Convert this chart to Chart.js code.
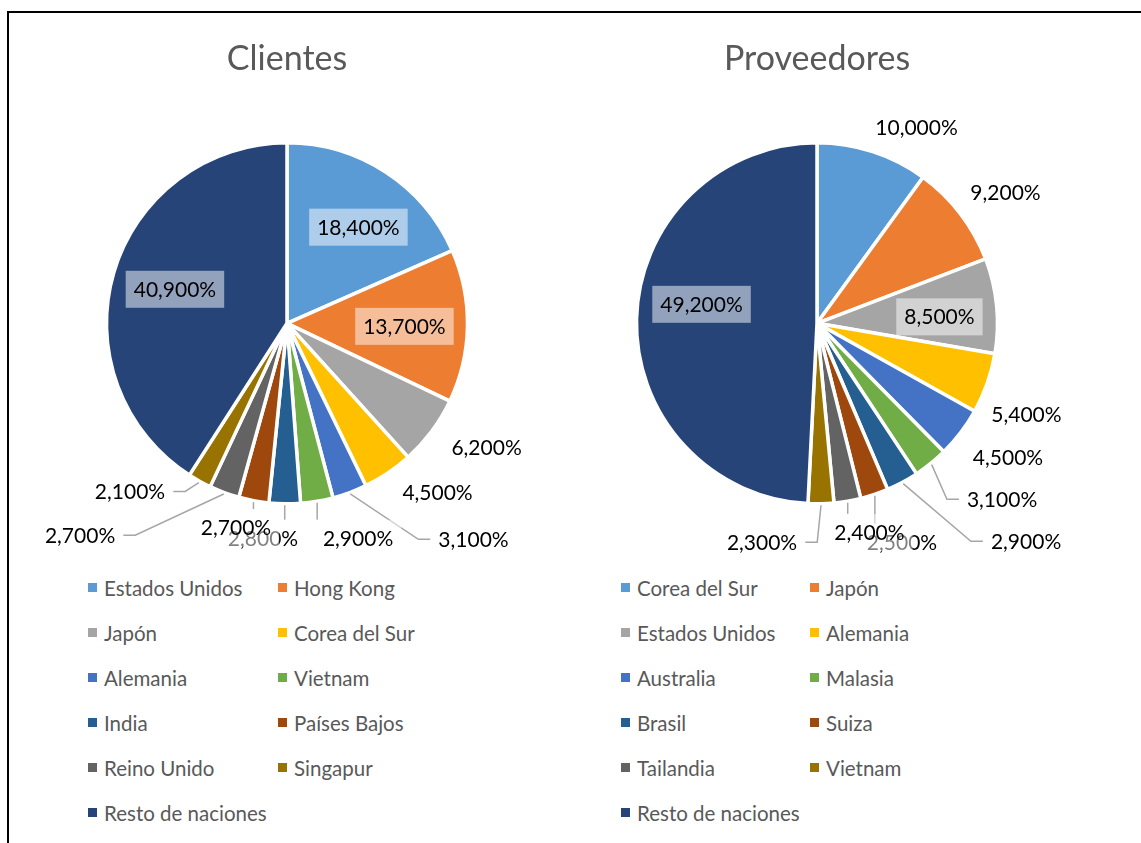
<!DOCTYPE html>
<html><head><meta charset="utf-8">
<script src="https://cdn.jsdelivr.net/npm/chart.js@4.4.1/dist/chart.umd.min.js"></script>
<style>
html,body{margin:0;padding:0;background:#fff;width:1141px;height:843px;overflow:hidden;position:relative;font-family:Lato,sans-serif;}
#frame{position:absolute;left:7px;top:11px;width:1300px;height:1000px;border-left:2px solid #000;border-top:2px solid #000;}
canvas{position:absolute;top:0;}
.legend{position:absolute;top:565px;display:grid;grid-auto-rows:45px;color:#595959;font-size:20.5px;}
.item{display:flex;align-items:center;white-space:nowrap;}
.sw{width:9px;height:9px;margin-right:7px;flex:none;}
</style></head>
<body>
<div id="frame"></div>
<canvas id="c1" width="570" height="565" style="left:0;width:570px;height:565px"></canvas>
<canvas id="c2" width="571" height="565" style="left:570px;width:571px;height:565px"></canvas>
<div id="lg1" class="legend" style="left:88px;grid-template-columns:190px 200px"></div>
<div id="lg2" class="legend" style="left:621px;grid-template-columns:189px 200px"></div>
<script>
// ---- data ----
const clientesLabels = ['Estados Unidos','Hong Kong','Japón','Corea del Sur','Alemania','Vietnam','India','Países Bajos','Reino Unido','Singapur','Resto de naciones'];
const clientesValues = [18.4, 13.7, 6.2, 4.5, 3.1, 2.9, 2.8, 2.7, 2.7, 2.1, 40.9];
const proveedoresLabels = ['Corea del Sur','Japón','Estados Unidos','Alemania','Australia','Malasia','Brasil','Suiza','Tailandia','Vietnam','Resto de naciones'];
const proveedoresValues = [10.0, 9.2, 8.5, 5.4, 4.5, 3.1, 2.9, 2.5, 2.4, 2.3, 49.2];
const sliceColors = ['#5B9BD5','#ED7D31','#A5A5A5','#FFC000','#4472C4','#70AD47','#255E91','#9E480E','#636363','#997300','#264478'];

// ---- label placement (relative to pie centre, in radius units) + leader-line flag ----
const clientesLabelPlace = [[0.399,-0.537,0],[0.656,0.017,0],[1.115,0.693,0],[0.841,0.947,0],[1.042,1.207,1],[0.397,1.201,1],[-0.134,1.201,1],[-0.285,1.142,1],[-1.156,1.184,1],[-0.877,0.939,1],[-0.626,-0.190,0]];
const proveedoresLabelPlace = [[0.556,-1.095,0],[1.053,-0.732,0],[0.684,-0.036,0],[1.170,0.508,0],[1.067,0.751,0],[1.034,0.983,1],[1.168,1.218,1],[0.475,1.223,1],[0.293,1.168,1],[-0.307,1.223,1],[-0.645,-0.106,0]];

const LABEL_FONT = 21;
const pieLabels = {
  id: 'pieLabels',
  afterDatasetsDraw(chart, args, opts) {
    const ctx = chart.ctx;
    const meta = chart.getDatasetMeta(0);
    const ds = chart.data.datasets[0];
    ctx.save();
    ctx.font = LABEL_FONT + 'px Lato';
    meta.data.forEach((arc, i) => {
      const p = arc.getProps(['x','y','startAngle','endAngle','outerRadius'], true);
      const R = p.outerRadius - 1.5;
      const mid = (p.startAngle + p.endAngle) / 2;
      const pl = opts.place[i];
      const cx = p.x + pl[0] * R, cy = p.y + pl[1] * R;
      const text = ds.data[i].toFixed(3).replace('.', ',') + '%';
      const w = ctx.measureText(text).width;
      const box = {l: cx - w/2 - 8, r: cx + w/2 + 8, t: cy - 18.5, b: cy + 18.5};
      if (pl[2]) {
        const sx = p.x + Math.cos(mid) * (R + 3), sy = p.y + Math.sin(mid) * (R + 3);
        ctx.strokeStyle = '#A6A6A6';
        ctx.lineWidth = 1.5;
        ctx.beginPath();
        ctx.moveTo(sx, sy);
        if (sx >= box.l && sx <= box.r) {
          ctx.lineTo(sx, sy < box.t ? box.t : box.b);
        } else if (sx < box.l) {
          ctx.lineTo(box.l - 12, cy); ctx.lineTo(box.l, cy);
        } else {
          ctx.lineTo(box.r + 12, cy); ctx.lineTo(box.r, cy);
        }
        ctx.stroke();
      }
      ctx.fillStyle = 'rgba(255,255,255,0.5)';
      ctx.fillRect(box.l, box.t, box.r - box.l, box.b - box.t);
      ctx.fillStyle = '#000';
      ctx.textAlign = 'center';
      ctx.textBaseline = 'alphabetic';
      ctx.fillText(text, cx, cy + 0.36 * LABEL_FONT);
    });
    ctx.restore();
  }
};

function makeChart(id, title, labels, values, place, pad) {
  return new Chart(document.getElementById(id), {
    type: 'pie',
    data: {labels: labels, datasets: [{data: values, backgroundColor: sliceColors, borderColor: '#fff', borderWidth: 3.5, radius: 180.5}]},
    options: {
      responsive: false, animation: false, radius: 180.5,
      layout: {padding: pad},
      events: [],
      plugins: {
        legend: {display: false},
        tooltip: {enabled: false},
        title: {display: true, text: title, color: '#595959', font: {family: 'Lato', size: 34, weight: 'normal'}, padding: {top: 39, bottom: 10}},
        pieLabels: {place: place}
      }
    },
    plugins: [pieLabels]
  });
}

function buildLegend(chart, elId) {
  const el = document.getElementById(elId);
  const ds = chart.data.datasets[0];
  chart.data.labels.forEach((lab, i) => {
    const it = document.createElement('div'); it.className = 'item';
    const sw = document.createElement('span'); sw.className = 'sw'; sw.style.background = ds.backgroundColor[i];
    const tx = document.createElement('span'); tx.textContent = lab;
    it.appendChild(sw); it.appendChild(tx); el.appendChild(it);
  });
}

function init() {
  const c1 = makeChart('c1', 'Clientes', clientesLabels, clientesValues, clientesLabelPlace, {left: 62, right: 58, top: 0, bottom: 8.2});
  const c2 = makeChart('c2', 'Proveedores', proveedoresLabels, proveedoresValues, proveedoresLabelPlace, {left: 20, right: 97, top: 0, bottom: 8.2});
  buildLegend(c1, 'lg1');
  buildLegend(c2, 'lg2');
}
if (document.fonts && document.fonts.load) {
  Promise.all([document.fonts.load('21px Lato'), document.fonts.load('34px Lato')]).then(init, init);
} else { init(); }
</script>
</body></html>
